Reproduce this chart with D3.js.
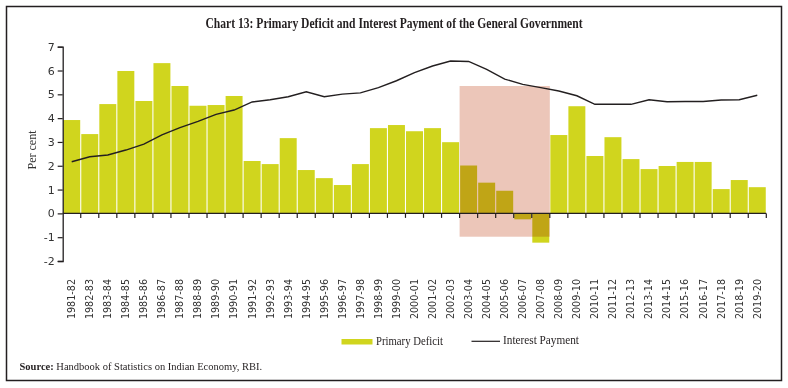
<!DOCTYPE html>
<html>
<head>
<meta charset="utf-8">
<script src="https://cdn.jsdelivr.net/npm/d3@7"></script>
<style>
  body { margin: 0; background: #fff; }
  svg { display: block; }
</style>
</head>
<body>
<div class="d3"></div>
<script>
const years = ["1981-82","1982-83","1983-84","1984-85","1985-86","1986-87","1987-88","1988-89","1989-90","1990-91",
  "1991-92","1992-93","1993-94","1994-95","1995-96","1996-97","1997-98","1998-99","1999-00","2000-01",
  "2001-02","2002-03","2003-04","2004-05","2005-06","2006-07","2007-08","2008-09","2009-10","2010-11",
  "2011-12","2012-13","2013-14","2014-15","2015-16","2016-17","2017-18","2018-19","2019-20"];
const primaryDeficit = [3.92,3.33,4.59,5.98,4.72,6.31,5.35,4.52,4.55,4.93,
  2.2,2.07,3.16,1.82,1.48,1.19,2.07,3.58,3.71,3.45,
  3.58,2.99,2.01,1.29,0.95,-0.25,-1.23,3.29,4.5,2.41,
  3.2,2.28,1.86,1.99,2.16,2.16,1.02,1.4,1.1];
const interestPayment = [2.17,2.38,2.45,2.66,2.91,3.3,3.6,3.86,4.16,4.34,
  4.68,4.77,4.9,5.11,4.9,5.01,5.06,5.28,5.57,5.91,
  6.19,6.4,6.38,6.05,5.64,5.42,5.28,5.14,4.94,4.58,
  4.58,4.58,4.77,4.69,4.7,4.7,4.76,4.77,4.96];
const yTicks = [-2,-1,0,1,2,3,4,5,6,7];
const highlight = {from: "2003-04", to: "2007-08", top: 5.35, bottom: -0.98};

function main() {
  const width = 788, height = 388;
  const svg = d3.select(".d3").append("svg")
    .attr("width", width)
    .attr("height", height);

  // frame
  svg.append("rect")
    .attr("x", 6.5).attr("y", 6.5)
    .attr("width", 775).attr("height", 374)
    .attr("fill", "none").attr("stroke", "#231f20").attr("stroke-width", 1.5);

  svg.append("text")
    .attr("x", 394).attr("y", 28)
    .attr("text-anchor", "middle")
    .attr("font-family", "Liberation Serif")
    .attr("font-weight", "bold")
    .attr("font-size", 15.5)
    .attr("textLength", 377).attr("lengthAdjust", "spacingAndGlyphs")
    .attr("fill", "#231f20")
    .text("Chart 13: Primary Deficit and Interest Payment of the General Government");

  const x = d3.scaleBand().domain(years).range([62.7, 766.3]).paddingInner(0.06).paddingOuter(0.03);
  const xb = d3.scaleBand().domain(years).range([62.7, 766.3]);
  const y = d3.scaleLinear().domain([-2, 7]).range([261, 46.7]);

  const g = svg.append("g");

  g.selectAll(".bar").data(years).enter().append("rect")
    .attr("class", "bar")
    .attr("x", d => x(d))
    .attr("width", x.bandwidth())
    .attr("y", (d, i) => y(Math.max(0, primaryDeficit[i])))
    .attr("height", (d, i) => Math.abs(y(primaryDeficit[i]) - y(0)))
    .attr("fill", "#d0d51e");

  // highlighted period
  g.append("rect")
    .attr("x", xb(highlight.from))
    .attr("width", xb(highlight.to) + xb.bandwidth() - xb(highlight.from))
    .attr("y", y(highlight.top))
    .attr("height", y(highlight.bottom) - y(highlight.top))
    .attr("fill", "#ecc6b9")
    .style("mix-blend-mode", "multiply");

  // axes
  const axisColor = "#231f20";
  const yAxis = d3.axisLeft(y).tickValues(yTicks).tickSize(5).tickFormat(d => String(d));
  const ya = svg.append("g").attr("transform", "translate(62.7,0)").call(yAxis);
  ya.select(".domain").attr("stroke", axisColor).attr("stroke-width", 1.3);
  ya.selectAll(".tick line").attr("stroke", axisColor).attr("stroke-width", 1.2);
  ya.selectAll(".tick text")
    .attr("font-family", "DejaVu Sans").attr("font-size", 11).attr("fill", "#333")
    .attr("x", -8);

  const xa = svg.append("g").attr("transform", "translate(0," + y(0) + ")");
  xa.append("line")
    .attr("x1", 62.7).attr("x2", 766.3)
    .attr("stroke", axisColor).attr("stroke-width", 1.3);
  xa.selectAll(".xt").data(years).enter().append("line")
    .attr("class", "xt")
    .attr("x1", d => xb(d) + xb.bandwidth()).attr("x2", d => xb(d) + xb.bandwidth())
    .attr("y1", 0).attr("y2", 4.5)
    .attr("stroke", axisColor).attr("stroke-width", 1.2);

  svg.selectAll(".xl").data(years).enter().append("text")
    .attr("class", "xl")
    .attr("transform", d => "translate(" + (xb(d) + xb.bandwidth() / 2) + ",279) rotate(-90)")
    .attr("text-anchor", "end")
    .attr("dy", "0.35em")
    .attr("font-family", "DejaVu Sans").attr("font-size", 9.6).attr("fill", "#333")
    .text(d => d);

  svg.append("text")
    .attr("transform", "translate(36,150) rotate(-90)")
    .attr("text-anchor", "middle")
    .attr("font-family", "Liberation Serif").attr("font-size", 12).attr("fill", "#333")
    .text("Per cent");

  // interest payment line
  const line = d3.line()
    .x((d, i) => xb(years[i]) + xb.bandwidth() / 2)
    .y(d => y(d));
  svg.append("path")
    .datum(interestPayment)
    .attr("d", line)
    .attr("fill", "none")
    .attr("stroke", "#231f20")
    .attr("stroke-width", 1.4);

  // legend
  const lg = svg.append("g");
  lg.append("rect").attr("x", 341.5).attr("y", 339).attr("width", 31).attr("height", 5.5).attr("fill", "#d0d51e");
  lg.append("text").attr("x", 376).attr("y", 345)
    .attr("font-family", "Liberation Serif").attr("font-size", 11.5).attr("fill", "#231f20")
    .attr("textLength", 67).attr("lengthAdjust", "spacingAndGlyphs")
    .text("Primary Deficit");
  lg.append("line").attr("x1", 471.5).attr("x2", 500).attr("y1", 341.3).attr("y2", 341.3)
    .attr("stroke", "#231f20").attr("stroke-width", 1.2);
  lg.append("text").attr("x", 503).attr("y", 344)
    .attr("font-family", "Liberation Serif").attr("font-size", 11.5).attr("fill", "#231f20")
    .attr("textLength", 76).attr("lengthAdjust", "spacingAndGlyphs")
    .text("Interest Payment");

  // source
  const src = svg.append("text").attr("x", 19.5).attr("y", 369.5)
    .attr("font-family", "Liberation Serif").attr("font-size", 10.5).attr("fill", "#231f20");
  src.append("tspan").attr("font-weight", "bold").text("Source:");
  src.append("tspan").text(" Handbook of Statistics on Indian Economy, RBI.");
}
main();
</script>
</body>
</html>
